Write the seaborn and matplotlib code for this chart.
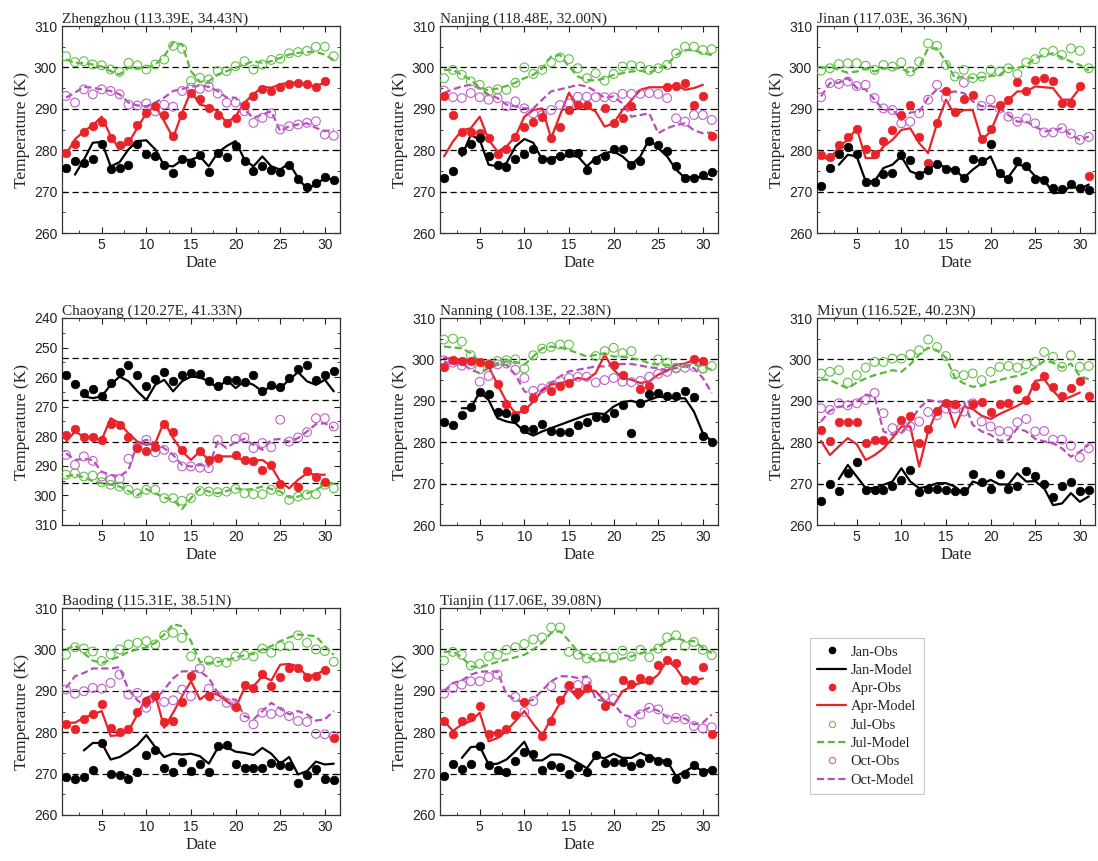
import numpy as np
import pandas as pd
import matplotlib
matplotlib.use("Agg")
import matplotlib.pyplot as plt
from matplotlib.lines import Line2D
from matplotlib.ticker import MultipleLocator
import seaborn as sns

N = None
days = list(range(1, 32))

# ---------------- Zhengzhou ----------------
zz_jan_obs = [275.6, 277.3, 276.8, 277.9, 281.4, 275.5, 275.7, 276.4, 281.4, 279.1, 278.7, 276.4, 274.5, 277.9, 276.9, 278.9, 274.7, 279.4, 278.4, 281.1, 277.5, 274.9, 276.3, 275.3, 274.7, 276.5, 273.0, 271.0, 272.1, 273.5, 272.7]
zz_jan_mod = [N, 274.1, 277.7, 281.8, 282.0, 276.1, 277.1, 280.2, 282.2, 282.4, 280.2, 276.3, 276.1, 277.6, 277.7, 278.5, 276.1, 279.4, 281.0, 282.2, 277.7, 276.1, 278.5, 276.1, 275.3, 276.9, 273.3, 270.6, 271.7, 273.3, 272.9]
zz_apr_obs = [279.4, 281.4, 284.4, 285.8, 286.8, 283.0, 281.2, 282.2, 286.2, 289.0, 290.6, 288.6, 283.4, 288.6, 293.9, 292.4, 290.2, 288.6, 286.6, 287.8, 291.0, 293.1, 294.7, 294.3, 295.3, 296.1, 296.3, 295.9, 295.3, 296.7, N]
zz_apr_mod = [279.0, 282.6, 284.6, 286.0, 288.1, 283.4, 280.2, 281.8, 285.4, 289.0, 290.8, 287.0, 283.0, 289.0, 294.3, 291.0, 290.5, 289.4, 286.6, 288.2, 291.5, 293.5, 295.3, 295.1, 295.9, 296.3, 296.3, 295.9, 295.3, 296.5, N]
zz_jul_obs = [302.7, 301.3, 301.5, 300.7, 300.5, 299.5, 298.9, 301.1, 300.5, 299.5, 300.7, 301.9, 305.2, 304.5, 296.7, 297.5, 297.1, 299.1, 299.1, 300.3, 301.5, 299.5, 300.7, 301.8, 302.1, 303.4, 303.7, 304.0, 305.0, 305.0, 302.7]
zz_jul_mod = [301.9, 301.1, 301.1, 300.7, 300.2, 299.1, 298.3, 299.9, 299.9, 299.9, 300.7, 302.7, 306.0, 305.6, 299.1, 296.5, 296.7, 298.3, 299.1, 299.9, 300.7, 301.5, 301.1, 301.5, 302.3, 303.1, 303.5, 303.7, 303.7, 303.1, 301.8]
zz_oct_obs = [293.1, 291.5, 294.7, 293.5, 294.7, 294.3, 293.5, 291.0, 290.8, 291.3, 289.4, 291.0, 290.5, 294.3, 295.1, 294.8, 295.3, 293.7, 291.5, 291.5, 289.4, 286.6, 287.8, 288.9, 285.0, 285.8, 286.2, 286.6, 287.0, 283.8, 283.5]
zz_oct_mod = [292.7, 293.9, 295.3, 295.1, 294.7, 294.3, 293.5, 291.5, 290.8, 290.6, 291.5, 292.7, 294.3, 294.8, 295.3, 295.6, 295.3, 294.3, 292.7, 292.7, 289.8, 287.8, 288.6, 289.4, 284.6, 285.8, 286.2, 286.5, 285.4, 284.6, 285.0]

# ---------------- Nanjing ----------------
nj_jan_obs = [273.3, 274.9, 279.9, 281.5, 282.9, 278.6, 276.5, 275.9, 277.9, 279.1, 280.3, 277.8, 277.7, 278.7, 279.3, 279.3, 275.3, 277.7, 278.6, 280.3, 280.3, 276.5, 277.3, 282.3, 281.3, 279.9, 276.1, 273.3, 273.3, 274.1, 274.7]
nj_jan_mod = [N, N, 278.6, 283.7, 282.5, 276.5, 276.1, 276.9, 280.9, 282.7, 281.8, 277.7, 278.1, 278.5, 278.6, 278.5, 276.1, 278.1, 279.3, 279.7, 278.5, 276.5, 278.5, 282.7, 280.5, 278.5, 275.3, 273.3, 273.7, 273.3, 272.9]
nj_apr_obs = [293.0, 288.5, 284.5, 284.5, 284.1, 282.9, 279.1, 280.3, 283.3, 285.7, 286.9, 288.1, 282.9, 285.6, 289.6, 290.8, 290.8, N, 290.2, 286.5, 287.8, 290.6, N, N, N, 295.3, 295.5, 296.3, 291.0, 293.2, 283.5]
nj_apr_mod = [278.5, 282.1, 284.8, 285.3, 288.1, 282.5, 279.7, 280.9, 283.3, 288.1, 289.7, 290.1, 282.9, 288.5, 293.9, 290.3, 290.5, 289.3, 285.7, 286.5, 289.7, 292.1, 294.6, 295.2, 295.2, 295.2, 295.8, 294.6, 295.0, 295.8, N]
nj_jul_obs = [297.4, 299.4, 298.2, 296.6, 295.8, 294.2, 294.7, 294.6, 296.3, 300.0, 298.4, 299.4, 301.2, 302.4, 302.0, 299.8, 297.4, 298.6, 296.8, 298.4, 300.2, 300.5, 300.2, 299.4, 299.8, 300.6, 303.4, 305.0, 305.0, 304.2, 304.4]
nj_jul_mod = [299.4, 299.4, 298.2, 297.0, 295.2, 294.4, 294.9, 295.5, 296.3, 297.4, 298.2, 299.8, 302.6, 303.0, 300.2, 297.8, 297.0, 296.8, 297.4, 298.2, 298.6, 299.0, 299.2, 298.7, 299.8, 300.6, 303.0, 304.2, 304.2, 303.4, 303.0]
nj_oct_obs = [294.4, 292.8, 292.6, 293.8, 292.8, 292.2, 292.6, 290.6, 291.8, 290.1, 288.9, 288.5, 289.7, 290.9, 291.3, 292.9, 292.9, 292.8, 292.8, 292.8, 293.6, 293.6, 293.6, 293.8, 293.6, 292.6, 287.7, 286.9, 288.5, 288.5, 287.3]
nj_oct_mod = [293.8, 294.7, 295.4, 295.8, 295.0, 293.4, 292.6, 291.0, 290.6, 290.1, 290.1, 292.2, 294.2, 294.7, 295.2, 295.8, 295.4, 294.2, 292.6, 293.0, 291.3, 288.1, 288.5, 288.9, 284.1, 285.3, 286.1, 286.5, 284.8, 284.1, 284.3]

# ---------------- Jinan ----------------
jn_jan_obs = [271.4, 275.7, 279.1, 280.7, 279.1, 272.2, 272.2, 274.2, 274.6, 278.9, 277.7, 274.1, 275.1, 276.7, 275.4, 275.3, 273.3, 277.8, 277.3, 281.5, 274.5, 273.0, 277.5, 276.1, 273.0, 272.9, 270.9, 270.6, 271.8, 270.9, 270.5]
jn_jan_mod = [N, N, 276.5, 278.9, 278.5, 272.5, 272.5, 275.7, 276.5, 278.5, 274.9, 274.1, 275.3, 276.9, 275.7, 275.3, 273.3, 275.3, 276.9, 278.5, 273.7, 273.5, 276.5, 276.1, 273.7, 272.9, 269.6, 269.8, 271.3, 270.6, 271.7]
jn_apr_obs = [278.9, 278.3, 281.3, 283.1, 285.1, 280.3, 279.1, 282.2, 285.0, 288.6, 290.8, 283.2, 276.9, 286.6, 294.3, 289.2, 292.4, 293.3, 282.8, 285.1, 290.8, 292.2, 296.5, 294.2, 297.0, 297.5, 296.7, 291.5, 291.3, 295.5, 273.8]
jn_apr_mod = [278.5, 277.7, 280.9, 282.5, 285.3, 278.1, 278.1, 280.9, 282.5, 284.9, 285.3, 281.7, 279.3, 286.5, 292.2, 288.5, 289.7, 289.7, 282.5, 284.5, 289.7, 292.2, 294.2, 294.2, 295.4, 295.2, 295.0, 292.2, 292.2, 295.0, N]
jn_jul_obs = [299.2, 299.8, 300.8, 301.0, 301.0, 300.4, 299.4, 300.6, 300.2, 301.2, 299.0, 301.4, 305.8, 305.2, 300.6, 297.8, 299.4, 297.4, 297.8, 299.4, 299.0, 299.8, 298.4, 301.2, 302.0, 303.6, 304.0, 303.0, 304.6, 304.0, 299.8]
jn_jul_mod = [299.8, 300.2, 299.4, 298.7, 299.0, 299.8, 299.0, 299.8, 299.8, 299.8, 298.6, 300.2, 304.6, 304.6, 301.4, 297.4, 297.8, 297.4, 297.6, 297.9, 298.2, 299.8, 299.8, 300.6, 302.2, 303.0, 303.4, 302.4, 301.4, 300.6, 299.2]
jn_oct_obs = [292.8, 296.2, 296.0, 296.6, 295.5, 295.8, 292.6, 290.1, 289.7, 286.5, 286.9, 288.9, 292.2, 295.8, 292.6, N, 296.3, N, 290.7, 292.2, 290.1, 288.1, 286.9, 287.7, 286.5, 284.3, 284.3, 285.3, 284.0, 282.5, 283.2]
jn_oct_mod = [293.0, 296.2, 296.3, 297.4, 295.0, 294.7, 292.2, 289.7, 289.9, 287.3, 289.1, 289.3, 292.6, 294.7, 293.8, 294.2, 293.8, 291.8, 290.6, 290.7, 290.1, 288.5, 286.9, 286.9, 285.7, 284.5, 284.8, 285.3, 283.7, 282.5, 283.3]

# ---------------- Chaoyang ----------------
cy_jan_obs = [259.2, 262.3, 265.4, 263.9, 266.5, 262.0, 258.3, 255.8, 259.4, 263.1, 260.7, 258.1, 261.4, 259.2, 258.6, 259.0, 261.4, 263.1, 260.9, 260.9, 261.7, 259.4, 264.6, 262.6, 263.5, 260.3, 257.2, 255.8, 260.9, 259.4, 257.8]
cy_jan_mod = [N, N, 266.5, 267.1, 266.5, 262.6, 259.8, 261.4, 264.8, 267.7, 262.6, 260.9, 264.8, 261.4, 259.8, 260.1, 261.4, 263.7, 260.9, 263.7, 261.4, 262.6, 264.8, 263.1, 263.7, 260.9, 258.3, 261.4, 262.6, 260.9, 264.8]
cy_apr_obs = [279.5, 277.5, 280.4, 280.1, 281.2, 275.9, 276.1, 280.1, 284.0, 284.9, 283.5, 275.9, 278.4, 284.6, N, 285.0, 288.0, 287.4, N, 286.3, 288.0, 288.5, 291.4, 289.7, 296.2, N, 297.0, 291.7, 293.6, 295.3, N]
cy_apr_mod = [281.8, 278.4, 280.1, 280.6, 281.2, 273.9, 275.6, 279.0, 281.8, 282.9, 282.3, 275.0, 280.6, 285.1, 288.0, 285.1, 288.0, 286.8, 286.8, 286.8, 288.5, 288.3, 288.0, 290.2, 295.3, 297.6, 294.7, 292.5, 293.0, 293.0, N]
cy_jul_obs = [293.0, 292.5, 293.6, 293.3, 295.5, 296.4, 297.0, 298.1, 299.3, 298.1, 298.1, 300.9, 300.9, 301.8, 300.9, 298.5, 298.7, 298.9, 298.7, 297.8, 299.3, 299.6, 299.6, 298.1, 298.5, 301.5, 300.4, 299.8, 299.6, 296.4, 297.6]
cy_jul_mod = [293.6, 292.8, 294.0, 295.1, 295.9, 296.4, 297.0, 298.5, 300.0, 297.8, 299.3, 300.7, 301.5, 304.6, 300.9, 297.8, 298.7, 299.3, 298.5, 297.6, 298.1, 297.8, 297.0, 297.8, 298.7, 300.7, 300.4, 299.3, 298.1, 296.4, 295.5]
cy_oct_obs = [286.3, 289.7, 286.8, 288.3, 293.6, 294.7, 294.4, 287.6, 283.8, 281.2, 285.4, 284.6, 287.2, 290.2, 290.2, 290.6, 290.8, 281.2, N, 280.9, 280.4, 284.0, 282.3, 283.7, 274.4, 281.8, 280.4, 278.6, 273.9, 273.9, 276.7]
cy_oct_mod = [285.7, 288.0, 287.6, 288.0, 292.0, 293.0, 293.6, 291.4, 282.3, 281.2, 282.3, 284.0, 286.3, 289.7, 290.2, 289.7, 290.2, 281.8, 284.0, 281.8, 280.9, 282.9, 284.6, 281.2, 280.9, 281.8, 280.6, 278.4, 275.9, 275.6, 277.2]

# ---------------- Nanning ----------------
nn_jan_obs = [285.0, 284.2, 286.5, 288.4, 292.1, 291.6, 287.4, 287.0, 285.8, 283.2, 283.2, 284.4, 282.7, 282.4, 282.4, 284.2, 285.0, 286.2, 285.8, 287.0, 289.0, 282.2, 289.4, 291.6, 291.9, 291.2, 291.2, 292.4, 291.0, 281.4, 280.0]
nn_jan_mod = [N, N, 288.2, 288.2, 292.1, 290.2, 285.8, 285.0, 284.6, 282.6, 281.6, 282.6, 283.4, 284.2, 285.0, 285.8, 286.6, 287.0, 286.8, 288.6, 289.7, 290.0, 289.4, 290.2, 291.0, 290.8, 290.6, 290.6, 287.4, 282.2, 280.2]
nn_apr_obs = [298.1, 299.9, 299.7, 299.6, 299.4, 298.9, 294.0, 289.2, 286.6, 288.1, 290.6, N, 292.3, 293.6, 294.2, N, N, N, N, 298.6, 296.2, N, 292.8, 293.6, N, N, N, N, 300.0, 299.7, N]
nn_apr_mod = [300.3, 300.2, 299.9, 299.9, 299.7, 298.3, 293.9, 289.8, 287.0, 287.6, 289.8, 292.4, 293.9, 294.3, 294.7, 295.5, 295.1, 296.7, 301.1, 297.5, 295.5, 295.1, 294.3, 294.7, 296.3, 297.3, 298.7, 299.0, 299.9, 299.9, N]
nn_jul_obs = [304.8, 305.0, 304.3, 301.0, 297.6, 298.8, 299.6, 299.8, 300.0, 297.8, 301.0, 302.6, 303.0, 303.6, 303.6, N, N, 300.8, 302.0, 302.8, 301.5, 302.0, N, N, 300.0, 299.2, 298.0, N, N, 297.8, 298.4]
nn_jul_mod = [303.1, 302.9, 302.7, 301.5, 299.5, 298.7, 299.1, 299.5, 299.4, 298.7, 300.7, 302.7, 303.1, 302.9, 302.3, 301.5, 300.7, 301.1, 301.5, 300.7, 300.7, 300.3, 299.9, 299.1, 298.7, 298.7, 298.7, 298.5, 298.7, 298.3, 297.5]
nn_oct_obs = [299.8, 299.2, 298.5, 298.8, 294.6, 296.0, 298.8, 299.0, 297.5, 295.5, 292.4, 293.0, 293.6, 294.8, 295.5, 295.8, 295.8, 294.4, 295.0, 295.5, 294.6, 294.5, 294.8, 295.8, 296.5, 297.0, 297.8, 298.0, 298.2, 297.8, N]
nn_oct_mod = [299.5, 298.7, 299.1, 297.5, 296.7, 297.9, 298.7, 298.7, 296.3, 292.3, 291.5, 292.7, 294.3, 295.9, 297.1, 297.5, 297.9, 298.3, 298.3, 298.7, 298.9, 298.9, 298.5, 298.1, 297.9, 297.3, 297.9, 298.3, 297.9, 295.5, 291.9]

# ---------------- Miyun ----------------
my_jan_obs = [265.8, 269.8, 268.3, 272.5, 275.2, 268.5, 268.5, 268.5, 269.3, 270.9, 273.3, 267.9, 268.7, 268.7, 268.5, 268.2, 268.1, 272.3, 270.5, 268.7, 272.3, 268.7, 269.4, 273.1, 271.9, 269.8, 266.8, 269.5, 270.5, 268.1, 268.5]
my_jan_mod = [N, N, 271.1, 274.5, 271.7, 268.9, 268.9, 269.7, 270.5, 273.7, 270.5, 268.9, 269.3, 270.1, 270.1, 269.3, 267.3, 270.5, 269.8, 270.9, 269.8, 269.8, 272.5, 270.5, 270.6, 268.9, 264.8, 265.2, 267.7, 265.6, 266.9]
my_apr_obs = [283.0, 280.2, 285.0, 285.0, 285.0, 279.8, 280.6, 280.6, N, 285.4, 286.4, 279.8, 283.2, 287.6, 289.4, 289.2, N, 289.2, 289.6, 287.2, 289.2, 289.4, 292.8, 290.2, 293.6, 296.0, 293.4, 291.2, 293.2, 294.8, 291.2]
my_apr_mod = [280.3, 276.9, 279.0, 281.0, 279.5, 275.7, 276.9, 278.5, 281.0, 283.8, 283.8, 274.1, 282.6, 287.6, 290.0, 283.6, 288.6, 288.0, 286.4, 285.6, 286.8, 287.8, 288.8, 290.0, 294.8, 295.2, 292.4, 290.2, 291.0, 292.0, N]
my_jul_obs = [296.6, 297.0, 297.4, 294.4, 296.2, 298.0, 299.4, 299.4, 300.2, 300.2, 301.2, 302.2, 304.8, 303.0, 300.8, 296.4, 296.2, 296.6, 295.0, 297.0, 298.2, 298.4, 298.0, 298.8, 299.4, 301.8, 300.6, 298.2, 301.0, 298.2, 298.4]
my_jul_mod = [295.2, 295.0, 294.0, 293.0, 294.4, 295.4, 296.2, 296.8, 297.4, 297.0, 298.8, 301.2, 302.8, 302.2, 300.4, 295.6, 294.2, 293.4, 293.6, 294.4, 295.0, 295.6, 296.0, 296.8, 298.0, 299.6, 299.2, 298.0, 299.0, 296.0, 295.2]
my_oct_obs = [288.2, 287.8, 289.4, 288.9, 289.4, 290.2, 291.9, 287.0, 283.4, 283.4, 283.8, 285.0, 287.3, 286.5, 288.1, 288.1, 287.4, 289.4, 285.0, 283.8, 282.7, 282.6, 284.8, 285.6, 282.6, 282.7, 280.6, 280.6, 279.2, 276.3, 278.5]
my_oct_mod = [285.0, 287.6, 288.6, 288.6, 289.8, 291.5, 291.0, 282.6, 281.8, 282.2, 285.0, 288.2, 290.2, 289.8, 289.8, 287.8, 289.8, 284.2, 282.6, 281.8, 280.3, 280.6, 283.4, 282.6, 280.8, 280.2, 279.8, 278.5, 276.5, 277.7, 279.4]

# ---------------- Baoding ----------------
bd_jan_obs = [269.2, 268.8, 269.2, 270.8, 277.4, 270.0, 269.6, 268.6, 270.4, 274.4, 275.6, 271.3, 270.5, 272.8, 270.6, 272.2, 270.4, 276.6, 276.9, 272.4, 271.3, 271.3, 271.3, 272.6, 272.1, 271.8, 267.8, 269.6, 271.0, 268.6, 268.4]
bd_jan_mod = [N, N, 275.6, 277.4, 277.4, 273.4, 274.0, 275.3, 276.9, 279.3, 276.4, 274.0, 274.8, 274.6, 274.8, 274.2, 272.4, 276.2, 276.4, 275.3, 275.0, 274.5, 276.2, 274.8, 272.4, 274.0, 269.8, 270.6, 272.9, 272.2, 272.4]
bd_apr_obs = [282.0, 280.7, 283.3, 284.4, 286.7, 280.9, 280.1, 280.7, 284.9, 287.5, 288.7, 282.5, 282.8, 287.3, 293.5, N, 288.7, N, N, 286.0, 291.5, 290.7, 294.1, 291.1, 293.3, 295.4, 295.4, 293.3, 293.5, 295.1, 278.5]
bd_apr_mod = [282.3, 282.3, 283.5, 284.3, 285.1, 279.1, 279.3, 280.3, 284.3, 288.3, 289.1, 281.1, 284.7, 288.7, 292.3, 287.9, 289.5, 289.1, 287.5, 285.9, 290.7, 291.1, 293.5, 292.5, 296.3, 296.5, 295.9, 293.5, 293.9, 295.1, N]
bd_jul_obs = [298.7, 300.5, 300.2, 299.5, 297.2, 298.8, 300.0, 301.2, 301.6, 302.0, 301.2, 303.4, 304.0, 302.8, 298.3, N, 297.3, 297.0, 296.8, 298.3, 298.6, 298.3, 300.2, 299.2, 300.8, 300.8, 303.4, 301.6, 300.0, 299.6, 297.0]
bd_jul_mod = [300.0, 301.0, 299.1, 297.3, 296.7, 297.5, 298.3, 299.4, 300.0, 300.5, 301.6, 303.6, 306.1, 305.6, 302.0, 297.0, 296.7, 297.0, 297.3, 298.1, 298.6, 298.9, 300.0, 300.8, 302.0, 302.9, 303.6, 303.4, 303.2, 300.8, 298.7]
bd_oct_obs = [290.3, 289.3, 289.9, 290.7, 290.5, 291.9, 293.9, 289.1, 289.5, 285.9, 288.7, 287.3, 287.7, 290.3, 288.7, 295.4, 290.5, 288.7, 287.1, 286.3, 283.6, 281.9, 284.7, 284.4, 284.9, 283.9, 282.7, 282.5, 279.6, 279.5, 279.1]
bd_oct_mod = [290.7, 293.5, 294.3, 295.4, 295.4, 295.4, 295.7, 290.3, 287.7, 286.0, 287.9, 290.3, 293.0, 294.7, 294.7, 294.7, 293.1, 289.5, 287.9, 287.9, 283.9, 283.1, 285.1, 287.1, 285.7, 284.3, 285.1, 284.3, 282.8, 283.1, 285.1]

# ---------------- Tianjin ----------------
tj_jan_obs = [269.4, 272.4, 271.0, 272.4, 276.6, 272.1, 270.8, 270.4, 273.0, 275.3, 274.8, 270.8, 272.1, 271.6, 270.0, 271.6, 270.4, 274.6, 272.6, 272.9, 272.9, 271.8, 272.5, 273.8, 273.0, 272.9, 268.8, 270.0, 272.1, 270.4, 270.8]
tj_jan_mod = [N, N, 273.8, 276.4, 276.6, 272.2, 272.4, 273.4, 275.4, 277.7, 273.2, 273.2, 274.6, 274.6, 273.8, 272.6, 271.3, 274.2, 273.7, 274.8, 273.8, 273.8, 275.0, 274.0, 273.4, 273.0, 269.4, 270.5, 271.8, 270.6, 271.0]
tj_apr_obs = [282.7, 279.5, 282.8, 283.6, 286.3, 279.5, 279.9, 280.7, 284.1, 287.3, N, 279.1, 282.7, 287.7, 291.5, 289.7, 290.7, N, 286.3, N, 292.6, 291.6, 293.2, 292.7, 296.2, 297.5, 296.7, 292.6, 292.6, 295.8, 279.5]
tj_apr_mod = [282.7, 280.3, 281.9, 282.7, 284.7, 277.8, 278.6, 280.3, 282.7, 285.1, 282.0, 279.3, 283.3, 287.1, 290.7, 288.1, 290.3, 289.9, 287.5, 286.5, 289.9, 291.1, 291.9, 292.2, 293.9, 297.5, 295.5, 292.3, 292.5, 293.0, N]
tj_jul_obs = [297.3, 299.4, 298.7, 296.1, 296.5, 298.3, 298.7, 299.9, 300.5, 301.3, 302.4, 302.9, 305.3, 305.3, 299.4, 298.7, 297.8, 298.1, 298.3, 298.1, 299.7, 298.3, 299.9, 298.1, 300.2, 302.9, 303.4, 300.8, 301.8, 299.9, 298.6]
tj_jul_mod = [299.4, 299.5, 298.1, 295.9, 295.7, 296.3, 297.0, 297.5, 298.1, 298.7, 300.0, 301.6, 304.0, 304.4, 302.1, 299.4, 298.1, 297.5, 297.3, 297.0, 297.8, 298.3, 299.1, 299.5, 300.5, 302.1, 302.9, 302.0, 302.0, 300.4, 299.1]
tj_oct_obs = [289.3, 290.7, 291.5, 292.3, 292.3, 293.3, 293.9, N, 288.5, 284.9, 287.5, N, 291.1, N, 291.0, 291.4, 292.2, N, 288.7, 288.1, N, 282.3, 284.3, 285.9, 285.5, 283.1, 283.5, 283.1, 281.5, 280.9, 281.2]
tj_oct_mod = [289.9, 291.9, 292.5, 293.9, 294.6, 294.7, 294.6, 289.1, 287.9, 287.1, 287.9, 290.1, 292.3, 293.5, 293.5, 293.1, 293.5, 287.9, 287.5, 286.8, 284.3, 283.6, 284.9, 285.9, 285.2, 283.6, 283.5, 283.3, 281.9, 282.3, 284.3]

stations = [
    ("Zhengzhou (113.39E, 34.43N)", "zz"),
    ("Nanjing (118.48E, 32.00N)", "nj"),
    ("Jinan (117.03E, 36.36N)", "jn"),
    ("Chaoyang (120.27E, 41.33N)", "cy"),
    ("Nanning (108.13E, 22.38N)", "nn"),
    ("Miyun (116.52E, 40.23N)", "my"),
    ("Baoding (115.31E, 38.51N)", "bd"),
    ("Tianjin (117.06E, 39.08N)", "tj"),
]

months = ["jan", "apr", "jul", "oct"]
month_names = {"jan": "Jan", "apr": "Apr", "jul": "Jul", "oct": "Oct"}
line_colors = {"jan": "#000000", "apr": "#e8232a", "jul": "#5cb83c", "oct": "#b350b6"}
dot_colors = {"jan": "#000000", "apr": "#e8232a", "jul": "#62c04a", "oct": "#c060cc"}
filled = {"jan": True, "apr": True, "jul": False, "oct": False}
dash = (0, (3.2, 1.6))
line_styles = {"jan": "-", "apr": "-", "jul": dash, "oct": dash}

sns.set_theme(style="ticks")
plt.rcParams["font.family"] = ["Liberation Sans", "DejaVu Sans"]
serif = ["Liberation Serif", "DejaVu Serif"]

fig = plt.figure(figsize=(10.98, 8.61), dpi=100)

W, H = 1098.0, 861.0
col_left = [62, 440, 817]
row_top = [26, 318, 608]
ax_w, ax_h = 278, 207

for i, (title, key) in enumerate(stations):
    r, c = divmod(i, 3)
    ax = fig.add_axes([col_left[c] / W, 1 - (row_top[r] + ax_h) / H, ax_w / W, ax_h / H])
    g = globals()
    draw_order = ["oct", "jul", "apr", "jan"]
    for m in draw_order:
        mod = pd.Series(g[f"{key}_{m}_mod"], dtype=float)
        obs = pd.Series(g[f"{key}_{m}_obs"], dtype=float)
        dfm = pd.DataFrame({"Date": days, "T": mod}).dropna()
        dfo = pd.DataFrame({"Date": days, "T": obs}).dropna()
        sns.lineplot(data=dfm, x="Date", y="T", ax=ax, color=line_colors[m],
                     linestyle=line_styles[m], linewidth=1.6, estimator=None, sort=False)
        if filled[m]:
            sns.scatterplot(data=dfo, x="Date", y="T", ax=ax, color=dot_colors[m],
                            edgecolor=dot_colors[m], s=38, linewidth=0.5, zorder=3)
        else:
            sns.scatterplot(data=dfo, x="Date", y="T", ax=ax, color=dot_colors[m],
                            facecolor="none", edgecolor=dot_colors[m], s=40,
                            linewidth=0.8, zorder=3)

    ax.set_xlim(0.55, 31.7)
    if key == "cy":
        ax.set_ylim(310, 240)
        ax.yaxis.set_major_locator(MultipleLocator(10))
        ax.yaxis.set_minor_locator(MultipleLocator(5))
        ref_lines = [253.5, 267.7, 281.8, 295.7]
    else:
        ax.set_ylim(260, 310)
        ax.yaxis.set_major_locator(MultipleLocator(10))
        ax.yaxis.set_minor_locator(MultipleLocator(5))
        ref_lines = [270, 280, 290, 300]
    for yv in ref_lines:
        ax.axhline(yv, color="black", linestyle=(0, (5, 3)), linewidth=0.9, zorder=1)

    ax.xaxis.set_major_locator(MultipleLocator(5))
    ax.xaxis.set_minor_locator(MultipleLocator(2.5))
    ax.tick_params(axis="both", which="both", direction="in", top=True, right=True,
                   labelsize=10, colors="#222222")
    ax.tick_params(which="major", length=4, width=0.8)
    ax.tick_params(which="minor", length=2.5, width=0.6)
    for s in ax.spines.values():
        s.set_linewidth(0.9)
        s.set_color("#333333")

    ax.set_xlabel("Date", fontsize=12, family=serif, labelpad=2)
    ax.set_ylabel("Temperature (K)", fontsize=12.5, family=serif, labelpad=3)
    ax.set_title(title, loc="left", fontsize=11, family=serif, pad=2)
    if ax.get_legend() is not None:
        ax.get_legend().remove()

# Legend describing all eight series
handles, labels = [], []
for m in months:
    if filled[m]:
        h_obs = Line2D([], [], marker="o", linestyle="none", markersize=4.5,
                       color=dot_colors[m], markeredgecolor=dot_colors[m])
    else:
        h_obs = Line2D([], [], marker="o", linestyle="none", markersize=4.5,
                       markerfacecolor="none", markeredgecolor=dot_colors[m], markeredgewidth=0.8)
    h_mod = Line2D([], [], color=line_colors[m], linestyle=line_styles[m], linewidth=1.6)
    handles += [h_obs, h_mod]
    labels += [f"{month_names[m]}-Obs", f"{month_names[m]}-Model"]

leg = fig.legend(handles, labels, loc="upper left",
                 bbox_to_anchor=(810 / W, 1 - 638 / H),
                 prop={"family": serif, "size": 10.5}, frameon=True, fancybox=False,
                 edgecolor="#bbbbbb", labelspacing=0.35, handlelength=2.0,
                 handletextpad=0.3, borderpad=0.5, borderaxespad=0)
leg.get_frame().set_linewidth(0.8)

fig.savefig("out.png", dpi=100)
